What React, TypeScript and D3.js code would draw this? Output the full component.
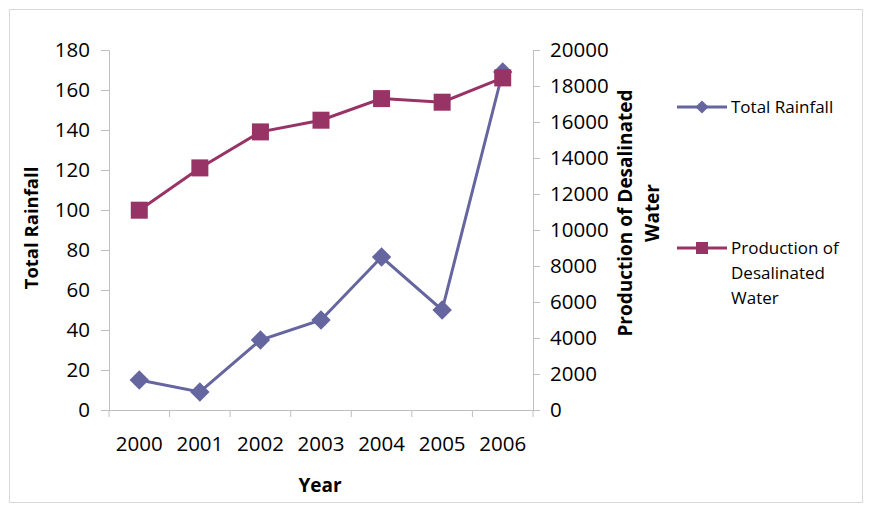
import React, { useEffect, useRef } from "react";
import * as d3 from "d3";

const years = ["2000", "2001", "2002", "2003", "2004", "2005", "2006"];
const rainfall = [15, 9, 35, 45, 76.5, 50, 169];
const desalinated = [11100, 13450, 15450, 16100, 17300, 17100, 18450];
const leftTicks = [0, 20, 40, 60, 80, 100, 120, 140, 160, 180];
const rightTicks = [0, 2000, 4000, 6000, 8000, 10000, 12000, 14000, 16000, 18000, 20000];

const W = 873;
const H = 513;
const font = "'Open Sans', 'Noto Sans', sans-serif";
const rainColor = "#65659f";
const desalColor = "#983366";
const axisColor = "#bfbfbf";

function draw(el: SVGSVGElement) {
  const svg = d3.select(el);
  svg.selectAll("*").remove();

  const x0 = 109, x1 = 533, yTop = 50, yBot = 410;

  // outer frame
  svg.append("rect")
    .attr("x", 9.5).attr("y", 9.5).attr("width", 853).attr("height", 493)
    .attr("fill", "#fff").attr("stroke", "#d9d9d9");

  const x = d3.scaleBand(years, [x0, x1]);
  const yL = d3.scaleLinear([0, 180], [yBot, yTop]);
  const yR = d3.scaleLinear([0, 20000], [yBot, yTop]);

  // left axis
  const gl = svg.append("g").attr("transform", `translate(${x0},0)`)
    .call(d3.axisLeft(yL).tickValues(leftTicks).tickSize(8).tickSizeOuter(0).tickPadding(11));
  // right axis
  const gr = svg.append("g").attr("transform", `translate(${x1},0)`)
    .call(d3.axisRight(yR).tickValues(rightTicks).tickFormat(d3.format("d")).tickSize(7).tickSizeOuter(0).tickPadding(10));
  // bottom axis, ticks on band edges
  const gb = svg.append("g").attr("transform", `translate(0,${yBot})`)
    .call(d3.axisBottom(x).tickSize(0).tickPadding(26));
  gb.selectAll(".edge").data([...years.map((d) => x(d)!), x1]).join("line")
    .attr("class", "edge")
    .attr("x1", (d) => d).attr("x2", (d) => d).attr("y1", 0).attr("y2", 7)
    .attr("stroke", axisColor);
  gb.select(".domain").attr("d", `M${x0},0.5H${x1}`);

  for (const g of [gl, gr, gb]) {
    g.selectAll(".domain, .tick line").attr("stroke", axisColor);
    g.selectAll("text").attr("font-family", font).attr("font-size", 20.5).attr("fill", "#000");
  }

  // rainfall series
  const cx = (i: number) => x(years[i])! + x.bandwidth() / 2;
  svg.append("path")
    .attr("d", d3.line<number>().x((_, i) => cx(i)).y((d) => yL(d))(rainfall))
    .attr("fill", "none").attr("stroke", rainColor).attr("stroke-width", 3);
  svg.selectAll(".dia").data(rainfall).join("path")
    .attr("class", "dia")
    .attr("d", d3.symbol(d3.symbolDiamond2, 240)())
    .attr("transform", (d, i) => `translate(${cx(i)},${yL(d)})`)
    .attr("fill", rainColor);

  // desalinated series
  svg.append("path")
    .attr("d", d3.line<number>().x((_, i) => cx(i)).y((d) => yR(d))(desalinated))
    .attr("fill", "none").attr("stroke", desalColor).attr("stroke-width", 3);
  svg.selectAll(".sq").data(desalinated).join("rect")
    .attr("class", "sq")
    .attr("x", (_, i) => cx(i) - 8.5).attr("y", (d) => yR(d) - 8.5)
    .attr("width", 17).attr("height", 17)
    .attr("fill", desalColor);

  // axis titles
  svg.append("text")
    .attr("transform", "translate(38,228) rotate(-90)")
    .attr("text-anchor", "middle").attr("font-family", font).attr("font-weight", "bold")
    .attr("font-size", 18.5).text("Total Rainfall");
  svg.append("text")
    .attr("x", 320).attr("y", 492)
    .attr("text-anchor", "middle").attr("font-family", font).attr("font-weight", "bold")
    .attr("font-size", 19).text("Year");
  const rt = svg.append("text")
    .attr("transform", "translate(632,213) rotate(-90)")
    .attr("text-anchor", "middle").attr("font-family", font).attr("font-weight", "bold")
    .attr("font-size", 19);
  rt.append("tspan").attr("x", 0).attr("dy", 0).text("Production of Desalinated");
  rt.append("tspan").attr("x", 0).attr("dy", 27).text("Water");

  // legend
  const legend = [
    { name: ["Total Rainfall"], color: rainColor, shape: "diamond", y: 107 },
    { name: ["Production of", "Desalinated", "Water"], color: desalColor, shape: "square", y: 248 },
  ];
  legend.forEach((l) => {
    const g = svg.append("g").attr("transform", `translate(0,${l.y})`);
    g.append("line").attr("x1", 677).attr("x2", 727).attr("stroke", l.color).attr("stroke-width", 3);
    if (l.shape === "diamond") {
      g.append("path").attr("d", d3.symbol(d3.symbolDiamond2, 110)())
        .attr("transform", "translate(702,0)").attr("fill", l.color);
    } else {
      g.append("rect").attr("x", 696).attr("y", -6).attr("width", 12).attr("height", 12).attr("fill", l.color);
    }
    const t = g.append("text").attr("font-family", font).attr("font-size", 17).attr("fill", "#000");
    l.name.forEach((s, i) => {
      t.append("tspan").attr("x", 731).attr("y", 6 + i * 25).text(s);
    });
  });
}

export default function App() {
  const ref = useRef<SVGSVGElement>(null);
  useEffect(() => {
    if (ref.current) draw(ref.current);
  }, []);
  return (
    <svg
      ref={ref}
      width={W}
      height={H}
      style={{ position: "absolute", left: 0, top: 0, background: "#fff" }}
    />
  );
}
